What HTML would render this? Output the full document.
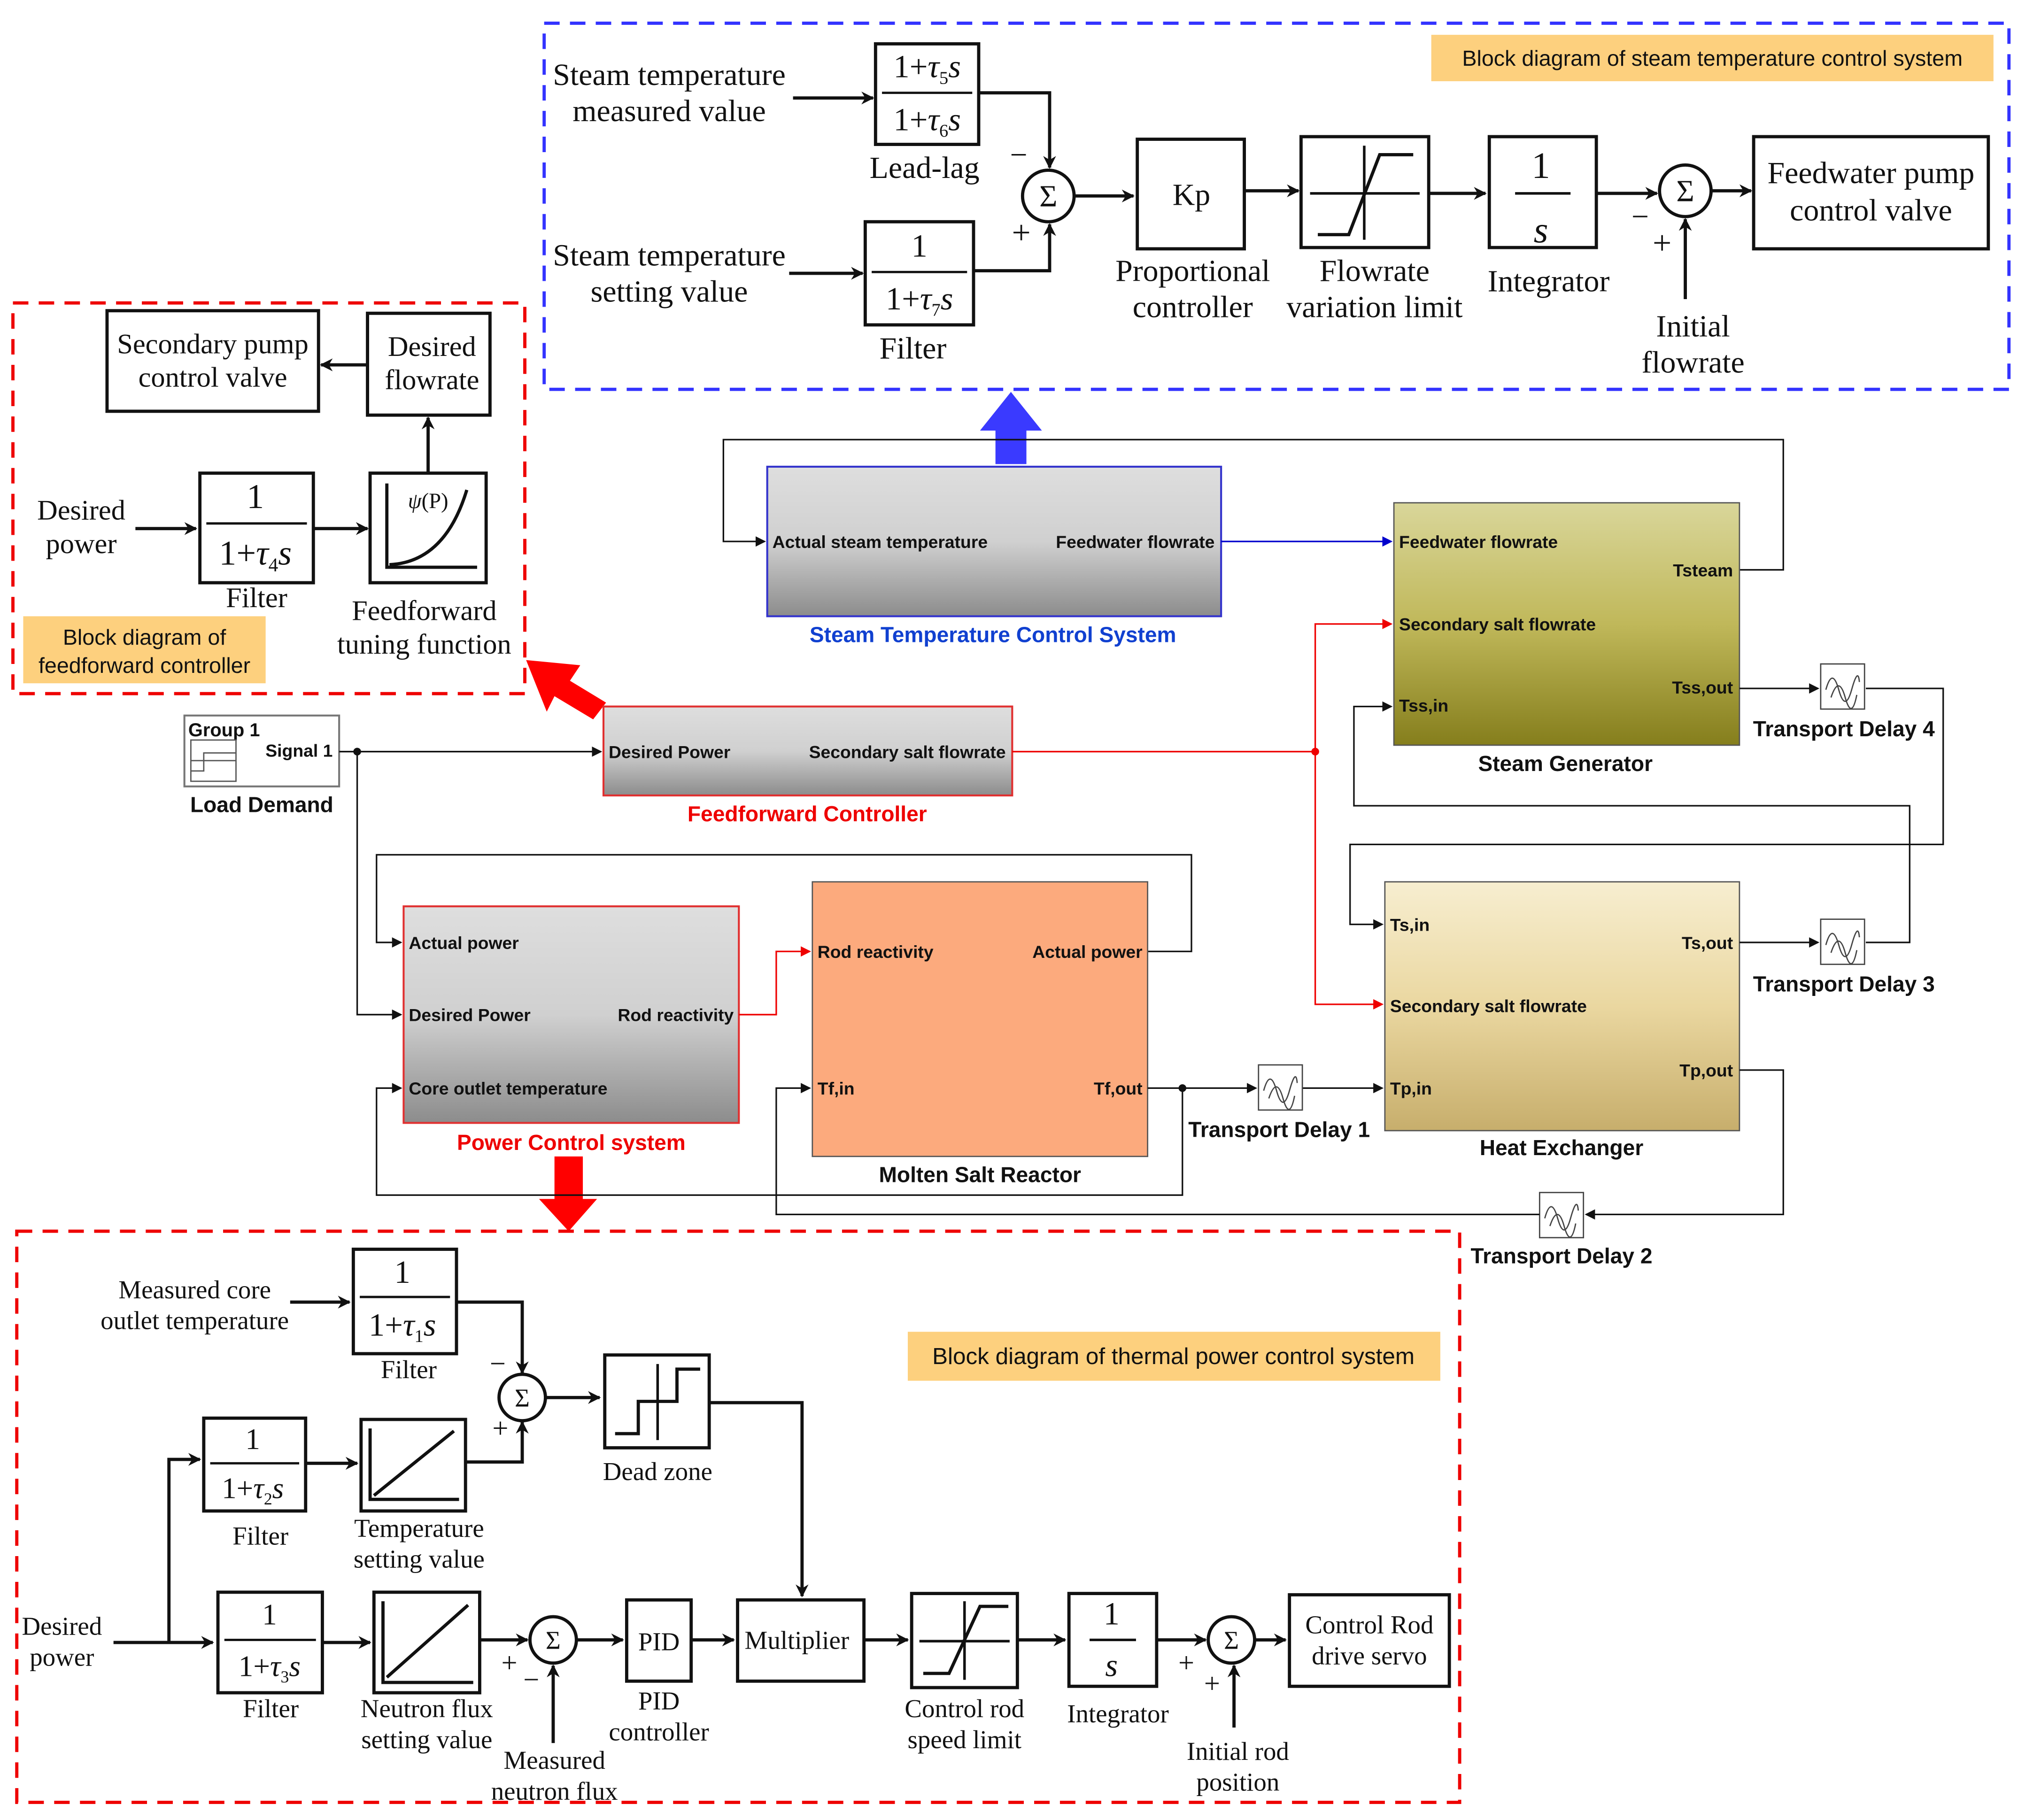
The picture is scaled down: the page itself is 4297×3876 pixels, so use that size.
<!DOCTYPE html>
<html><head><meta charset="utf-8"><style>
html,body{margin:0;padding:0;background:#fff}
svg{display:block}
.s{font-family:"Liberation Serif",serif;font-size:22px;fill:#111}
.t .s{font-size:24px}
.b{font-family:"Liberation Sans",sans-serif;font-size:13.6px;font-weight:bold;fill:#111}
.lb{font-family:"Liberation Sans",sans-serif;font-size:16.8px;font-weight:bold;fill:#111}
.o{font-family:"Liberation Sans",sans-serif;font-size:17px;fill:#111}
.bx{fill:#fff;stroke:#111;stroke-width:2.5}
.ln{fill:none;stroke:#111;stroke-width:2.5}
.tn{fill:none;stroke:#111;stroke-width:1.2}
</style></head><body>
<svg width="4297" height="3876" viewBox="0 0 1565 1411.7" xmlns="http://www.w3.org/2000/svg">
<defs>
<marker id="a" markerWidth="10" markerHeight="10" refX="9" refY="5" orient="auto" markerUnits="userSpaceOnUse" viewBox="0 0 10 10"><path d="M0,0 L10,5 L0,10 L3,5z" fill="#111"/></marker>
<marker id="k" markerWidth="8" markerHeight="8" refX="7" refY="4" orient="auto" markerUnits="userSpaceOnUse" viewBox="0 0 8 8"><path d="M0,0 L8,4 L0,8z" fill="#111"/></marker>
<marker id="r" markerWidth="8" markerHeight="8" refX="7" refY="4" orient="auto" markerUnits="userSpaceOnUse" viewBox="0 0 8 8"><path d="M0,0 L8,4 L0,8z" fill="#e00"/></marker>
<marker id="u" markerWidth="8" markerHeight="8" refX="7" refY="4" orient="auto" markerUnits="userSpaceOnUse" viewBox="0 0 8 8"><path d="M0,0 L8,4 L0,8z" fill="#00c"/></marker>
<linearGradient id="g1" x1="0" y1="0" x2="0" y2="1"><stop offset="0" stop-color="#dedede"/><stop offset="0.5" stop-color="#d0d0d0"/><stop offset="1" stop-color="#8c8c8c"/></linearGradient>
<linearGradient id="g2" x1="0" y1="0" x2="0" y2="1"><stop offset="0" stop-color="#d9d69a"/><stop offset="0.5" stop-color="#c0b85a"/><stop offset="1" stop-color="#857e1c"/></linearGradient>
<linearGradient id="g3" x1="0" y1="0" x2="0" y2="1"><stop offset="0" stop-color="#f7eed0"/><stop offset="0.5" stop-color="#ead7a0"/><stop offset="1" stop-color="#c7ae6c"/></linearGradient>
</defs>

<!-- ===== TOP BLUE DASHED ===== -->
<g class="t">
<rect x="422" y="18" width="1136" height="284" fill="none" stroke="#33f" stroke-width="2.5" stroke-dasharray="12,8"/>
<rect x="1110" y="27" width="436" height="36" fill="#fdd07e"/>
<text class="o" x="1328" y="51" text-anchor="middle">Block diagram of steam temperature control system</text>
<text class="s" x="519" y="66" text-anchor="middle">Steam temperature</text>
<text class="s" x="519" y="94" text-anchor="middle">measured value</text>
<line class="ln" x1="615" y1="76" x2="677" y2="76" marker-end="url(#a)"/>
<rect class="bx" x="679" y="34" width="80" height="78"/>
<line class="tn" x1="684" y1="72" x2="754" y2="72" style="stroke-width:1.8"/>
<text class="s" x="719" y="60" text-anchor="middle" style="font-size:25px">1+<tspan font-style="italic">τ</tspan><tspan font-size="14" dy="5">5</tspan><tspan font-style="italic" dy="-5">s</tspan></text>
<text class="s" x="719" y="101" text-anchor="middle" style="font-size:25px">1+<tspan font-style="italic">τ</tspan><tspan font-size="14" dy="5">6</tspan><tspan font-style="italic" dy="-5">s</tspan></text>
<text class="s" x="717" y="138" text-anchor="middle">Lead-lag</text>
<polyline class="ln" points="759,72 814,72 814,130" marker-end="url(#a)"/>
<circle cx="813" cy="152" r="20" class="bx"/>
<text class="s" x="813" y="160" text-anchor="middle">Σ</text>
<text class="s" x="790" y="128" text-anchor="middle">−</text>
<text class="s" x="792" y="189" text-anchor="middle" style="font-size:26px">+</text>
<text class="s" x="519" y="206" text-anchor="middle">Steam temperature</text>
<text class="s" x="519" y="234" text-anchor="middle">setting value</text>
<line class="ln" x1="612" y1="212" x2="669" y2="212" marker-end="url(#a)"/>
<rect class="bx" x="671" y="172" width="84" height="80"/>
<line class="tn" x1="676" y1="211" x2="750" y2="211" style="stroke-width:1.8"/>
<text class="s" x="713" y="199" text-anchor="middle" style="font-size:25px">1</text>
<text class="s" x="713" y="240" text-anchor="middle" style="font-size:25px">1+<tspan font-style="italic">τ</tspan><tspan font-size="14" dy="5">7</tspan><tspan font-style="italic" dy="-5">s</tspan></text>
<text class="s" x="708" y="278" text-anchor="middle">Filter</text>
<polyline class="ln" points="755,210 814,210 814,174" marker-end="url(#a)"/>
<line class="ln" x1="833" y1="152" x2="879" y2="152" marker-end="url(#a)"/>
<rect class="bx" x="882" y="108" width="83" height="85"/>
<text class="s" x="924" y="159" text-anchor="middle">Kp</text>
<text class="s" x="925" y="218" text-anchor="middle">Proportional</text>
<text class="s" x="925" y="246" text-anchor="middle">controller</text>
<line class="ln" x1="965" y1="148" x2="1007" y2="148" marker-end="url(#a)"/>
<rect class="bx" x="1009" y="106" width="99" height="86"/>
<line class="tn" x1="1016" y1="150" x2="1101" y2="150" style="stroke-width:2"/>
<line class="tn" x1="1058" y1="113" x2="1058" y2="186" style="stroke-width:2"/>
<polyline class="ln" points="1022,182 1046,182 1070,120 1096,120"/>
<text class="s" x="1066" y="218" text-anchor="middle">Flowrate</text>
<text class="s" x="1066" y="246" text-anchor="middle">variation limit</text>
<line class="ln" x1="1108" y1="150" x2="1152" y2="150" marker-end="url(#a)"/>
<rect class="bx" x="1155" y="106" width="83" height="86"/>
<line class="tn" x1="1175" y1="150" x2="1218" y2="150" style="stroke-width:2"/>
<text class="s" x="1195" y="138" text-anchor="middle" style="font-size:29px">1</text>
<text class="s" x="1195" y="188" text-anchor="middle" style="font-size:29px;font-style:italic">s</text>
<text class="s" x="1201" y="226" text-anchor="middle">Integrator</text>
<line class="ln" x1="1238" y1="150" x2="1285" y2="150" marker-end="url(#a)"/>
<circle cx="1307" cy="148" r="20" class="bx"/>
<text class="s" x="1307" y="156" text-anchor="middle">Σ</text>
<text class="s" x="1272" y="176" text-anchor="middle">−</text>
<text class="s" x="1289" y="197" text-anchor="middle" style="font-size:26px">+</text>
<line class="ln" x1="1307" y1="232" x2="1307" y2="170" marker-end="url(#a)"/>
<text class="s" x="1313" y="261" text-anchor="middle">Initial</text>
<text class="s" x="1313" y="289" text-anchor="middle">flowrate</text>
<line class="ln" x1="1327" y1="148" x2="1358" y2="148" marker-end="url(#a)"/>
<rect class="bx" x="1360" y="106" width="182" height="87"/>
<text class="s" x="1451" y="142" text-anchor="middle">Feedwater pump</text>
<text class="s" x="1451" y="171" text-anchor="middle">control valve</text>
</g>

<!-- ===== LEFT RED DASHED ===== -->
<rect x="10" y="235" width="397" height="303" fill="none" stroke="#e00" stroke-width="2.5" stroke-dasharray="12,8"/>
<rect class="bx" x="83" y="241" width="164" height="78"/>
<text class="s" x="165" y="274" text-anchor="middle">Secondary pump</text>
<text class="s" x="165" y="300" text-anchor="middle">control valve</text>
<rect class="bx" x="285" y="243" width="95" height="79"/>
<text class="s" x="335" y="276" text-anchor="middle">Desired</text>
<text class="s" x="335" y="302" text-anchor="middle">flowrate</text>
<line class="ln" x1="285" y1="283" x2="249" y2="283" marker-end="url(#a)"/>
<text class="s" x="63" y="403" text-anchor="middle">Desired</text>
<text class="s" x="63" y="429" text-anchor="middle">power</text>
<line class="ln" x1="105" y1="410" x2="152" y2="410" marker-end="url(#a)"/>
<rect class="bx" x="155" y="367" width="88" height="85"/>
<line class="tn" x1="160" y1="406" x2="238" y2="406" style="stroke-width:1.8"/>
<text class="s" x="198" y="394" text-anchor="middle" style="font-size:27px">1</text>
<text class="s" x="198" y="438" text-anchor="middle" style="font-size:27px">1+<tspan font-style="italic">τ</tspan><tspan font-size="15" dy="5">4</tspan><tspan font-style="italic" dy="-5">s</tspan></text>
<text class="s" x="199" y="471" text-anchor="middle">Filter</text>
<line class="ln" x1="243" y1="410" x2="285" y2="410" marker-end="url(#a)"/>
<rect class="bx" x="287" y="367" width="90" height="85"/>
<polyline class="ln" points="300,375 300,440 370,440"/>
<path d="M302,438 Q345,436 362,380" class="ln"/>
<text class="s" x="332" y="394" text-anchor="middle" style="font-size:17px"><tspan font-style="italic">ψ</tspan>(P)</text>
<line class="ln" x1="332" y1="367" x2="332" y2="324" marker-end="url(#a)"/>
<text class="s" x="329" y="481" text-anchor="middle">Feedforward</text>
<text class="s" x="329" y="507" text-anchor="middle">tuning function</text>
<rect x="18" y="478" width="188" height="52" fill="#fdd07e"/>
<text class="o" x="112" y="500" text-anchor="middle">Block diagram of</text>
<text class="o" x="112" y="522" text-anchor="middle">feedforward controller</text>

<!-- big arrows -->
<polygon points="772,360 796,360 796,334 808,334 784,304 760,334 772,334" fill="#3a3aff"/>
<polygon points="470,545 460,558 430,540 424,552 408,512 450,516 442,528" fill="#f00"/>
<polygon points="430,897 452,897 452,930 463,930 441,955 418,930 430,930" fill="#f00"/>

<!-- ===== SIMULINK ===== -->
<polyline fill="none" stroke="#111" stroke-width="1.2" points="1349,442 1383,442 1383,341 561,341 561,420 593,420" marker-end="url(#k)"/>
<rect x="595" y="362" width="352" height="116" fill="url(#g1)" stroke="#3333cc" stroke-width="1.5"/>
<text class="b" x="599" y="425">Actual steam temperature</text>
<text class="b" x="942" y="425" text-anchor="end">Feedwater flowrate</text>
<text class="lb" x="770" y="498" text-anchor="middle" style="fill:#1040d0">Steam Temperature Control System</text>
<line x1="947" y1="420" x2="1079" y2="420" stroke="#00c" stroke-width="1.2" marker-end="url(#u)"/>

<rect x="1081" y="390" width="268" height="188" fill="url(#g2)" stroke="#555" stroke-width="1"/>
<text class="b" x="1085" y="425">Feedwater flowrate</text>
<text class="b" x="1344" y="447" text-anchor="end">Tsteam</text>
<text class="b" x="1085" y="489">Secondary salt flowrate</text>
<text class="b" x="1344" y="538" text-anchor="end">Tss,out</text>
<text class="b" x="1085" y="552">Tss,in</text>
<text class="lb" x="1214" y="598" text-anchor="middle">Steam Generator</text>

<rect x="143" y="555" width="120" height="55" fill="#fff" stroke="#777" stroke-width="1.5"/>
<text class="b" x="146" y="571" style="font-size:14.5px">Group 1</text>
<text class="b" x="258" y="587" text-anchor="end">Signal 1</text>
<rect x="148" y="574" width="35" height="32" fill="none" stroke="#555" stroke-width="1"/>
<polyline fill="none" stroke="#555" stroke-width="1" points="148,598 158,598 158,584 183,584"/>
<line x1="148" y1="590" x2="183" y2="590" stroke="#555" stroke-width="1"/>
<text class="lb" x="203" y="630" text-anchor="middle">Load Demand</text>
<line x1="263" y1="583" x2="466" y2="583" stroke="#111" stroke-width="1.2" marker-end="url(#k)"/>
<circle cx="277" cy="583" r="3" fill="#111"/>
<polyline fill="none" stroke="#111" stroke-width="1.2" points="277,583 277,787 311,787" marker-end="url(#k)"/>

<rect x="468" y="548" width="317" height="69" fill="url(#g1)" stroke="#e03030" stroke-width="1.5"/>
<text class="b" x="472" y="588">Desired Power</text>
<text class="b" x="780" y="588" text-anchor="end">Secondary salt flowrate</text>
<text class="lb" x="626" y="637" text-anchor="middle" style="fill:#e00">Feedforward Controller</text>
<line x1="785" y1="583" x2="1020" y2="583" stroke="#e00" stroke-width="1.2"/>
<circle cx="1020" cy="583" r="3" fill="#e00"/>
<polyline fill="none" stroke="#e00" stroke-width="1.2" points="1020,583 1020,484 1079,484" marker-end="url(#r)"/>
<polyline fill="none" stroke="#e00" stroke-width="1.2" points="1020,583 1020,779 1072,779" marker-end="url(#r)"/>

<polyline fill="none" stroke="#111" stroke-width="1.2" points="890,738 924,738 924,663 292,663 292,731 311,731" marker-end="url(#k)"/>
<rect x="313" y="703" width="260" height="168" fill="url(#g1)" stroke="#e03030" stroke-width="1.5"/>
<text class="b" x="317" y="736">Actual power</text>
<text class="b" x="317" y="792">Desired Power</text>
<text class="b" x="569" y="792" text-anchor="end">Rod reactivity</text>
<text class="b" x="317" y="849">Core outlet temperature</text>
<text class="lb" x="443" y="892" text-anchor="middle" style="fill:#e00">Power Control system</text>
<polyline fill="none" stroke="#e00" stroke-width="1.2" points="573,787 602,787 602,738 628,738" marker-end="url(#r)"/>

<rect x="630" y="684" width="260" height="213" fill="#fcaa7d" stroke="#555" stroke-width="1"/>
<text class="b" x="634" y="743">Rod reactivity</text>
<text class="b" x="886" y="743" text-anchor="end">Actual power</text>
<text class="b" x="634" y="849">Tf,in</text>
<text class="b" x="886" y="849" text-anchor="end">Tf,out</text>
<text class="lb" x="760" y="917" text-anchor="middle">Molten Salt Reactor</text>

<line x1="890" y1="844" x2="974" y2="844" stroke="#111" stroke-width="1.2" marker-end="url(#k)"/>
<circle cx="917" cy="844" r="3" fill="#111"/>
<polyline fill="none" stroke="#111" stroke-width="1.2" points="917,844 917,927 292,927 292,844 311,844" marker-end="url(#k)"/>
<line x1="1010" y1="844" x2="1072" y2="844" stroke="#111" stroke-width="1.2" marker-end="url(#k)"/>

<g id="td">
<rect x="976" y="826" width="34" height="35" fill="#fff" stroke="#444" stroke-width="1"/>
<path d="M980,846 Q985,828 990,846 T1000,846 T1006,840" fill="none" stroke="#444" stroke-width="1"/>
<path d="M984,852 Q990,834 995,852 T1004,850" fill="none" stroke="#444" stroke-width="1"/>
</g>
<text class="lb" x="992" y="882" text-anchor="middle">Transport Delay 1</text>
<use href="#td" x="436" y="-311"/>
<text class="lb" x="1430" y="571" text-anchor="middle">Transport Delay 4</text>
<use href="#td" x="436" y="-113"/>
<text class="lb" x="1430" y="769" text-anchor="middle">Transport Delay 3</text>
<use href="#td" x="218" y="99"/>
<text class="lb" x="1211" y="980" text-anchor="middle">Transport Delay 2</text>

<rect x="1074" y="684" width="275" height="193" fill="url(#g3)" stroke="#555" stroke-width="1"/>
<text class="b" x="1078" y="722">Ts,in</text>
<text class="b" x="1344" y="736" text-anchor="end">Ts,out</text>
<text class="b" x="1078" y="785">Secondary salt flowrate</text>
<text class="b" x="1078" y="849">Tp,in</text>
<text class="b" x="1344" y="835" text-anchor="end">Tp,out</text>
<text class="lb" x="1211" y="896" text-anchor="middle">Heat Exchanger</text>

<polyline fill="none" stroke="#111" stroke-width="1.2" points="1349,830 1383,830 1383,942 1230,942" marker-end="url(#k)"/>
<polyline fill="none" stroke="#111" stroke-width="1.2" points="1194,942 602,942 602,844 628,844" marker-end="url(#k)"/>
<line x1="1349" y1="534" x2="1410" y2="534" stroke="#111" stroke-width="1.2" marker-end="url(#k)"/>
<polyline fill="none" stroke="#111" stroke-width="1.2" points="1447,534 1507,534 1507,655 1047,655 1047,717 1072,717" marker-end="url(#k)"/>
<line x1="1349" y1="731" x2="1410" y2="731" stroke="#111" stroke-width="1.2" marker-end="url(#k)"/>
<polyline fill="none" stroke="#111" stroke-width="1.2" points="1447,731 1481,731 1481,625 1050,625 1050,548 1079,548" marker-end="url(#k)"/>

<!-- ===== BOTTOM RED DASHED ===== -->
<rect x="13" y="955" width="1119" height="443" fill="none" stroke="#e00" stroke-width="2.5" stroke-dasharray="12,8"/>
<rect x="704" y="1033" width="413" height="38" fill="#fdd07e"/>
<text class="o" x="910" y="1058" text-anchor="middle" style="font-size:18px">Block diagram of thermal power control system</text>

<text class="s" x="151" y="1007" text-anchor="middle" style="font-size:20px">Measured core</text>
<text class="s" x="151" y="1031" text-anchor="middle" style="font-size:20px">outlet temperature</text>
<line class="ln" x1="225" y1="1010" x2="271" y2="1010" marker-end="url(#a)"/>
<rect class="bx" x="274" y="969" width="80" height="81"/>
<line class="tn" x1="279" y1="1006" x2="349" y2="1006" style="stroke-width:1.8"/>
<text class="s" x="312" y="995" text-anchor="middle" style="font-size:25px">1</text>
<text class="s" x="312" y="1036" text-anchor="middle" style="font-size:25px">1+<tspan font-style="italic">τ</tspan><tspan font-size="14" dy="5">1</tspan><tspan font-style="italic" dy="-5">s</tspan></text>
<text class="s" x="317" y="1069" text-anchor="middle" style="font-size:20px">Filter</text>
<polyline class="ln" points="354,1010 405,1010 405,1065" marker-end="url(#a)"/>
<circle cx="405" cy="1084" r="18" class="bx"/>
<text class="s" x="405" y="1091" text-anchor="middle" style="font-size:20px">Σ</text>
<text class="s" x="386" y="1065" text-anchor="middle">−</text>
<text class="s" x="388" y="1115" text-anchor="middle">+</text>
<line class="ln" x1="423" y1="1084" x2="465" y2="1084" marker-end="url(#a)"/>
<rect class="bx" x="469" y="1051" width="81" height="72"/>
<line class="tn" x1="510" y1="1058" x2="510" y2="1117" style="stroke-width:2"/>
<polyline class="ln" points="477,1112 495,1112 495,1087 525,1087 525,1062 543,1062"/>
<text class="s" x="510" y="1148" text-anchor="middle" style="font-size:20px">Dead zone</text>
<polyline class="ln" points="550,1088 622,1088 622,1238" marker-end="url(#a)"/>

<text class="s" x="48" y="1268" text-anchor="middle" style="font-size:20px">Desired</text>
<text class="s" x="48" y="1292" text-anchor="middle" style="font-size:20px">power</text>
<line class="ln" x1="88" y1="1274" x2="165" y2="1274" marker-end="url(#a)"/>
<polyline class="ln" points="131,1274 131,1132 155,1132" marker-end="url(#a)"/>
<rect class="bx" x="158" y="1100" width="79" height="72"/>
<line class="tn" x1="163" y1="1135" x2="232" y2="1135" style="stroke-width:1.8"/>
<text class="s" x="196" y="1124" text-anchor="middle" style="font-size:23px">1</text>
<text class="s" x="196" y="1162" text-anchor="middle" style="font-size:23px">1+<tspan font-style="italic">τ</tspan><tspan font-size="13" dy="5">2</tspan><tspan font-style="italic" dy="-5">s</tspan></text>
<text class="s" x="202" y="1198" text-anchor="middle" style="font-size:20px">Filter</text>
<line class="ln" x1="237" y1="1135" x2="277" y2="1135" marker-end="url(#a)"/>
<rect class="bx" x="280" y="1101" width="81" height="71"/>
<polyline class="ln" points="287,1108 287,1163 356,1163"/>
<line class="ln" x1="290" y1="1160" x2="352" y2="1110"/>
<text class="s" x="325" y="1192" text-anchor="middle" style="font-size:20px">Temperature</text>
<text class="s" x="325" y="1216" text-anchor="middle" style="font-size:20px">setting value</text>
<polyline class="ln" points="361,1134 405,1134 405,1103" marker-end="url(#a)"/>

<rect class="bx" x="169" y="1235" width="81" height="78"/>
<line class="tn" x1="174" y1="1272" x2="245" y2="1272" style="stroke-width:1.8"/>
<text class="s" x="209" y="1260" text-anchor="middle" style="font-size:23px">1</text>
<text class="s" x="209" y="1300" text-anchor="middle" style="font-size:23px">1+<tspan font-style="italic">τ</tspan><tspan font-size="13" dy="5">3</tspan><tspan font-style="italic" dy="-5">s</tspan></text>
<text class="s" x="210" y="1332" text-anchor="middle" style="font-size:20px">Filter</text>
<line class="ln" x1="250" y1="1274" x2="287" y2="1274" marker-end="url(#a)"/>
<rect class="bx" x="290" y="1235" width="82" height="78"/>
<polyline class="ln" points="297,1242 297,1305 367,1305"/>
<line class="ln" x1="300" y1="1301" x2="363" y2="1245"/>
<text class="s" x="331" y="1332" text-anchor="middle" style="font-size:20px">Neutron flux</text>
<text class="s" x="331" y="1356" text-anchor="middle" style="font-size:20px">setting value</text>
<line class="ln" x1="372" y1="1272" x2="409" y2="1272" marker-end="url(#a)"/>
<circle cx="429" cy="1272" r="18" class="bx"/>
<text class="s" x="429" y="1279" text-anchor="middle" style="font-size:20px">Σ</text>
<text class="s" x="395" y="1297" text-anchor="middle">+</text>
<text class="s" x="412" y="1310" text-anchor="middle">−</text>
<line class="ln" x1="429" y1="1352" x2="429" y2="1292" marker-end="url(#a)"/>
<text class="s" x="430" y="1372" text-anchor="middle" style="font-size:20px">Measured</text>
<text class="s" x="430" y="1396" text-anchor="middle" style="font-size:20px">neutron flux</text>
<line class="ln" x1="447" y1="1272" x2="483" y2="1272" marker-end="url(#a)"/>
<rect class="bx" x="486" y="1241" width="50" height="63"/>
<text class="s" x="511" y="1280" text-anchor="middle" style="font-size:20px">PID</text>
<text class="s" x="511" y="1326" text-anchor="middle" style="font-size:20px">PID</text>
<text class="s" x="511" y="1350" text-anchor="middle" style="font-size:20px">controller</text>
<line class="ln" x1="536" y1="1272" x2="569" y2="1272" marker-end="url(#a)"/>
<rect class="bx" x="572" y="1241" width="98" height="63"/>
<text class="s" x="618" y="1279" text-anchor="middle" style="font-size:20px">Multiplier</text>
<line class="ln" x1="670" y1="1272" x2="704" y2="1272" marker-end="url(#a)"/>
<rect class="bx" x="707" y="1236" width="82" height="73"/>
<line class="tn" x1="713" y1="1273" x2="783" y2="1273" style="stroke-width:2"/>
<line class="tn" x1="748" y1="1242" x2="748" y2="1303" style="stroke-width:2"/>
<polyline class="ln" points="716,1298 736,1298 760,1246 782,1246"/>
<text class="s" x="748" y="1332" text-anchor="middle" style="font-size:20px">Control rod</text>
<text class="s" x="748" y="1356" text-anchor="middle" style="font-size:20px">speed limit</text>
<line class="ln" x1="789" y1="1272" x2="826" y2="1272" marker-end="url(#a)"/>
<rect class="bx" x="829" y="1236" width="68" height="72"/>
<line class="tn" x1="845" y1="1272" x2="881" y2="1272" style="stroke-width:2"/>
<text class="s" x="862" y="1260" text-anchor="middle" style="font-size:25px">1</text>
<text class="s" x="862" y="1300" text-anchor="middle" style="font-size:25px;font-style:italic">s</text>
<text class="s" x="867" y="1336" text-anchor="middle" style="font-size:20px">Integrator</text>
<line class="ln" x1="897" y1="1272" x2="935" y2="1272" marker-end="url(#a)"/>
<circle cx="955" cy="1272" r="18" class="bx"/>
<text class="s" x="955" y="1279" text-anchor="middle" style="font-size:20px">Σ</text>
<text class="s" x="920" y="1297" text-anchor="middle">+</text>
<text class="s" x="940" y="1313" text-anchor="middle">+</text>
<line class="ln" x1="957" y1="1340" x2="957" y2="1292" marker-end="url(#a)"/>
<text class="s" x="960" y="1365" text-anchor="middle" style="font-size:20px">Initial rod</text>
<text class="s" x="960" y="1389" text-anchor="middle" style="font-size:20px">position</text>
<line class="ln" x1="973" y1="1272" x2="997" y2="1272" marker-end="url(#a)"/>
<rect class="bx" x="1000" y="1237" width="124" height="71"/>
<text class="s" x="1062" y="1267" text-anchor="middle" style="font-size:20px">Control Rod</text>
<text class="s" x="1062" y="1291" text-anchor="middle" style="font-size:20px">drive servo</text>
</svg>
</body></html>
